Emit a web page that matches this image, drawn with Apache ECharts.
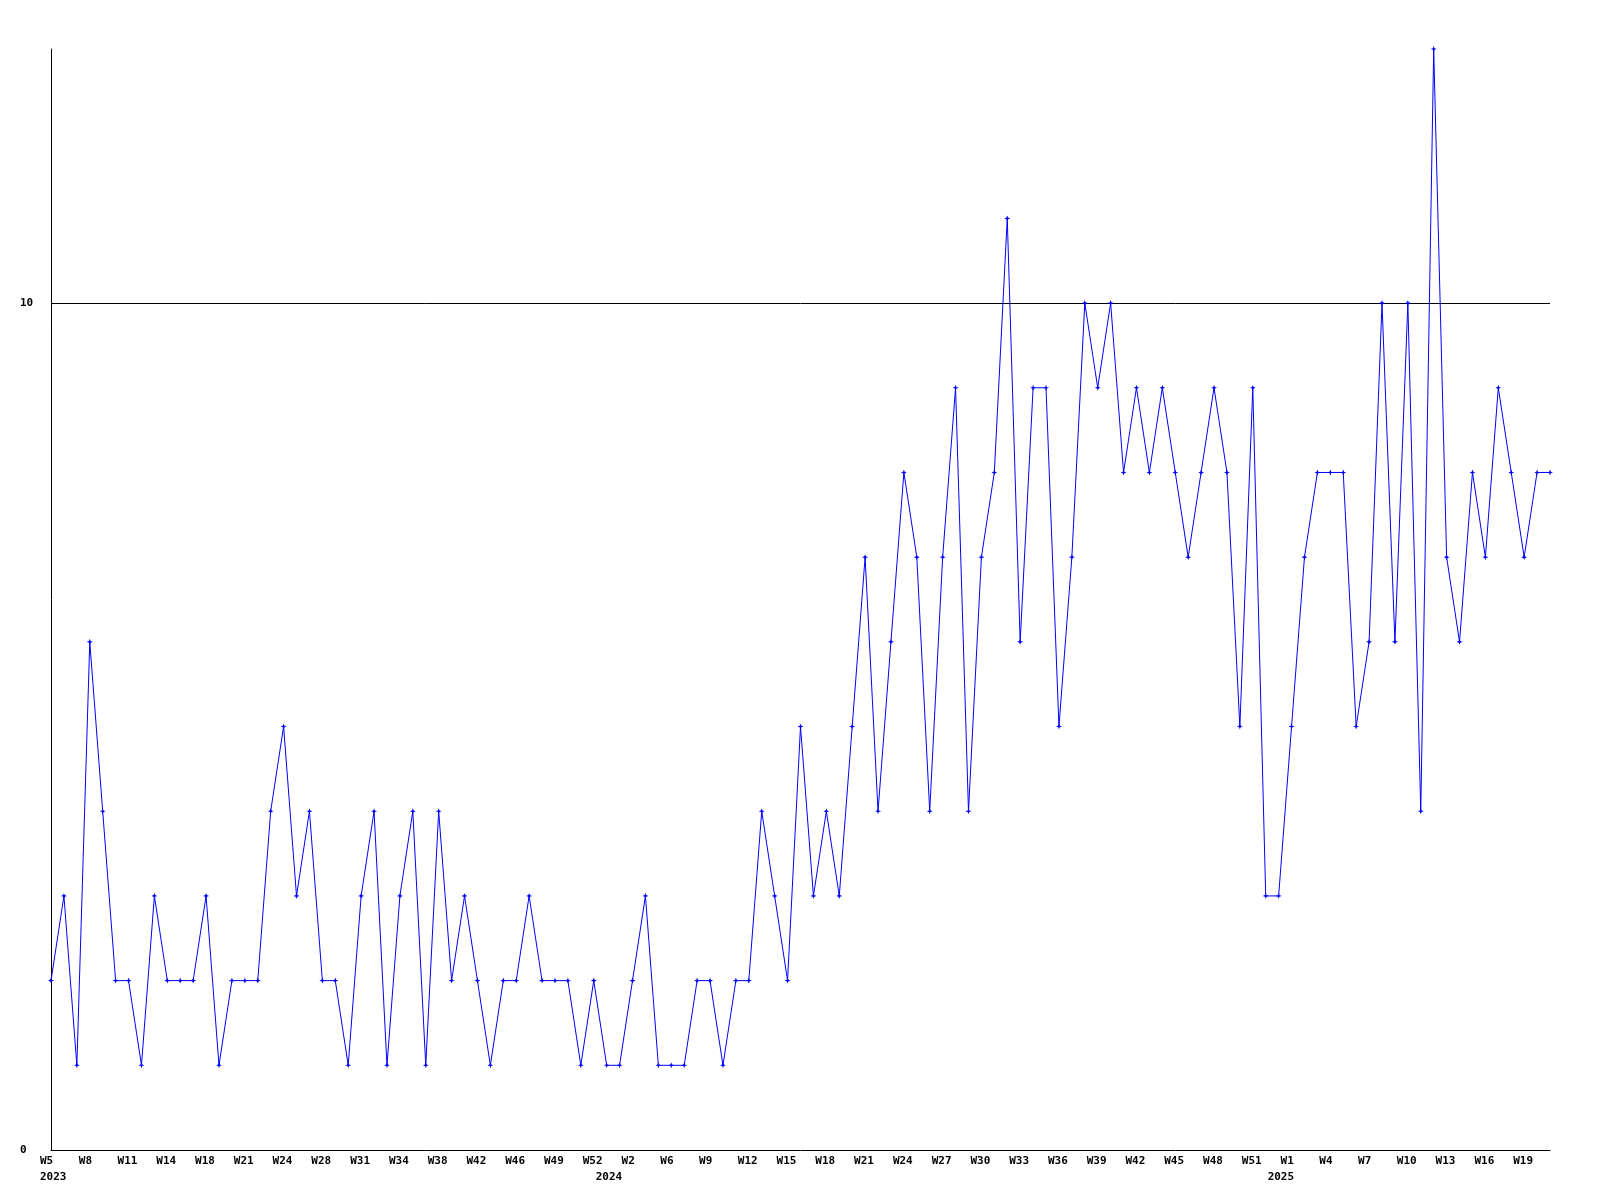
<!DOCTYPE html>
<html>
<head>
<meta charset="utf-8">
<style>
  html, body { margin: 0; padding: 0; background: #ffffff; }
  #chart { width: 1600px; height: 1200px; }
</style>
<script src="https://cdn.jsdelivr.net/npm/echarts@6/dist/echarts.min.js"></script>
</head>
<body>
<div id="chart"></div>
<script>
// Category (week) labels, one per data point
const categories = [
  'W5','W6','W7','W8','W9','W10','W11','W12','W13','W14','W16','W17',
  'W18','W19','W20','W21','W22','W23','W24','W26','W27','W28','W29','W30',
  'W31','W32','W33','W34','W36','W37','W38','W40','W41','W42','W44','W45',
  'W46','W47','W48','W49','W50','W51','W52','W1','W1','W2','W4','W5',
  'W6','W7','W8','W9','W10','W11','W12','W13','W14','W15','W16','W17',
  'W18','W19','W20','W21','W22','W23','W24','W25','W26','W27','W28','W29',
  'W30','W31','W32','W33','W34','W35','W36','W37','W38','W39','W40','W41',
  'W42','W43','W44','W45','W46','W47','W48','W49','W50','W51','W52','W1',
  'W1','W2','W3','W4','W5','W6','W7','W8','W9','W10','W11','W12',
  'W13','W14','W15','W16','W17','W18','W19','W20','W21'
];

// Series values
const values = [
  2,3,1,6,4,2,2,1,3,2,2,2,
  3,1,2,2,2,4,5,3,4,2,2,1,
  3,4,1,3,4,1,4,2,3,2,1,2,
  2,3,2,2,2,1,2,1,1,2,3,1,
  1,1,2,2,1,2,2,4,3,2,5,3,
  4,3,5,7,4,6,8,7,4,7,9,4,
  7,8,11,6,9,9,5,7,10,9,10,8,
  9,8,9,8,7,8,9,8,5,9,3,3,
  5,7,8,8,8,5,6,10,6,10,4,13,
  7,6,8,7,9,8,7,8,8
];

// Year labels and the category index where each year begins
const yearLabels = ['2023', '2024', '2025'];
const yearStartIndex = [0, 43, 95];

// Y axis tick settings
const yMin = 0;
const yMax = 13;
const yInterval = 10;

const chart = echarts.init(document.getElementById('chart'), null, { renderer: 'canvas' });

const labelFont = {
  fontFamily: 'DejaVu Sans Mono',
  fontWeight: 'bold',
  fontSize: 11,
  color: '#000000'
};

const option = {
  backgroundColor: '#ffffff',
  animation: false,
  grid: { left: 51, right: 50, top: 49, bottom: 50, containLabel: false },
  xAxis: [
    {
      type: 'category',
      data: categories,
      boundaryGap: false,
      position: 'bottom',
      axisLine: { show: true, lineStyle: { color: '#000000', width: 1 } },
      axisTick: { show: false },
      splitLine: { show: false },
      axisLabel: Object.assign({}, labelFont, {
        interval: 2,
        margin: 6,
        align: 'left',
        padding: [0, 0, 0, -11]
      })
    },
    {
      type: 'category',
      data: categories,
      boundaryGap: false,
      position: 'bottom',
      offset: 16,
      axisLine: { show: false },
      axisTick: { show: false },
      splitLine: { show: false },
      axisLabel: Object.assign({}, labelFont, {
        margin: 6,
        align: 'left',
        padding: [0, 0, 0, -11],
        interval: function (idx) { return yearStartIndex.indexOf(idx) !== -1; },
        formatter: function (val, idx) {
          const k = yearStartIndex.indexOf(idx);
          return k === -1 ? '' : yearLabels[k];
        }
      })
    }
  ],
  yAxis: {
    type: 'value',
    min: yMin,
    max: yMax,
    interval: yInterval,
    axisLine: { show: true, lineStyle: { color: '#000000', width: 1 } },
    axisTick: { show: false },
    axisLabel: Object.assign({}, labelFont, {
      align: 'left',
      margin: 31,
      showMaxLabel: false
    }),
    splitLine: {
      show: true,
      showMinLine: false,
      showMaxLine: false,
      lineStyle: { color: '#000000', width: 1 }
    }
  },
  series: [
    {
      type: 'line',
      xAxisIndex: 0,
      data: values,
      showAllSymbol: true,
      symbol: 'path://M0,-3L0.8,-0.8L3,0L0.8,0.8L0,3L-0.8,0.8L-3,0L-0.8,-0.8Z',
      symbolSize: 6,
      itemStyle: { color: '#0000ff' },
      lineStyle: { color: '#0000ff', width: 1 },
      emphasis: { disabled: true }
    }
  ]
};

chart.setOption(option);
</script>
</body>
</html>
